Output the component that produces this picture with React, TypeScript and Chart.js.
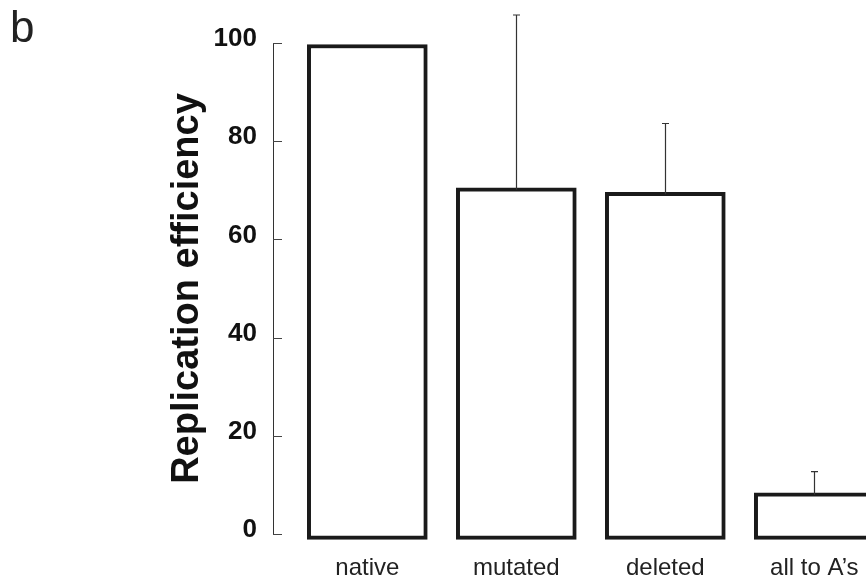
import React, { useEffect, useRef } from "react";
import { Chart, registerables } from "chart.js";

Chart.register(...registerables);

const categories = ["native", "mutated", "deleted", "all to A\u2019s"];
const efficiency = [99.7, 70.5, 69.6, 8.4];
const errorUpper = [0, 35.2, 14.0, 4.3];
const yTicks = [0, 20, 40, 60, 80, 100];
const panelLetter = "b";
const yTitle = "Replication efficiency";

const FONT = "'Liberation Sans', Arial, Helvetica, sans-serif";

const extrasPlugin = {
  id: "extras",
  afterDatasetsDraw(chart: any) {
    const ctx = chart.ctx;
    const y = chart.scales.y;
    const meta = chart.getDatasetMeta(0);
    ctx.save();
    // error bars (upper only)
    ctx.strokeStyle = "#333";
    ctx.lineWidth = 1.2;
    meta.data.forEach((bar: any, i: number) => {
      const sd = errorUpper[i];
      if (!sd) return;
      const x = Math.round(bar.x) + 0.5;
      const y0 = y.getPixelForValue(efficiency[i]) + 2;
      const y1 = y.getPixelForValue(efficiency[i] + sd);
      ctx.beginPath();
      ctx.moveTo(x, y0);
      ctx.lineTo(x, y1);
      ctx.moveTo(x - 3.5, y1);
      ctx.lineTo(x + 3.5, y1);
      ctx.stroke();
    });
    // inward tick marks
    ctx.strokeStyle = "#444";
    ctx.lineWidth = 1;
    const left = chart.chartArea.left;
    y.ticks.forEach((t: any) => {
      const py = Math.round(y.getPixelForValue(t.value)) + 0.5;
      ctx.beginPath();
      ctx.moveTo(left, py);
      ctx.lineTo(left + 9, py);
      ctx.stroke();
    });
    // panel letter
    ctx.fillStyle = "#222";
    ctx.font = `44px ${FONT}`;
    ctx.textAlign = "left";
    ctx.textBaseline = "alphabetic";
    ctx.fillText(panelLetter, 10, 41.5);
    ctx.restore();
  },
};

export default function App() {
  const canvasRef = useRef<HTMLCanvasElement | null>(null);

  useEffect(() => {
    if (!canvasRef.current) return;
    const chart = new Chart(canvasRef.current, {
      type: "bar",
      data: {
        datasets: [
          {
            data: categories.map((_, i) => ({ x: i, y: efficiency[i] })),
            backgroundColor: "#ffffff",
            borderColor: "#1a1a1a",
            borderWidth: 4,
            borderSkipped: false,
            barThickness: 120,
            base: -1.1,
            clip: false,
          } as any,
        ],
      },
      options: {
        animation: false,
        responsive: false,
        maintainAspectRatio: false,
        layout: { padding: { left: 150, top: 43, right: 0, bottom: 0 } },
        plugins: {
          legend: { display: false },
          tooltip: { enabled: false },
        },
        scales: {
          x: {
            type: "linear",
            offset: false,
            min: -0.633,
            max: 3.347,
            afterBuildTicks: (s: any) => {
              s.ticks = categories.map((_, i) => ({ value: i }));
            },
            afterFit: (s: any) => {
              s.height = 47;
              s.paddingLeft = 0;
              s.paddingRight = 0;
            },
            grid: { display: false, drawTicks: false, offset: false },
            border: { display: false },
            ticks: {
              autoSkip: false,
              maxRotation: 0,
              minRotation: 0,
              padding: 20,
              color: "#222",
              font: { family: FONT, size: 24 },
              callback: (v: any) => categories[v] ?? "",
            },
          },
          y: {
            min: 0,
            max: 100,
            afterBuildTicks: (s: any) => {
              s.ticks = yTicks.map((v) => ({ value: v }));
            },
            afterFit: (s: any) => {
              s.width = 123;
            },
            grid: { display: false, drawTicks: false },
            border: { display: true, color: "#333", width: 1 },
            ticks: {
              padding: 16,
              labelOffset: -4,
              color: "#111",
              font: { family: FONT, size: 26, weight: "bold" },
            },
            title: {
              display: true,
              text: yTitle,
              color: "#111",
              padding: { top: 15, bottom: 0 },
              font: { family: FONT, size: 38, weight: "bold" },
            },
          },
        },
      },
      plugins: [extrasPlugin],
    });
    return () => chart.destroy();
  }, []);

  return (
    <div
      style={{
        position: "fixed",
        left: 0,
        top: 0,
        width: 866,
        height: 581,
        overflow: "hidden",
        background: "#fff",
      }}
    >
      <canvas ref={canvasRef} width={866} height={581} style={{ width: 866, height: 581, display: "block" }} />
    </div>
  );
}
